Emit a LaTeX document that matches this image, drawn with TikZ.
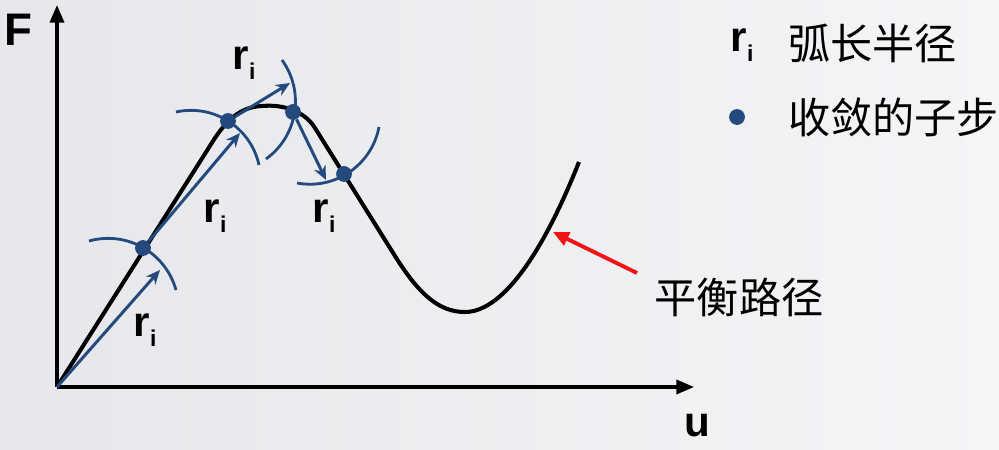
\documentclass[tikz,border=0pt]{standalone}
\usepackage{fontspec}
\setmainfont{Liberation Sans}
\newfontfamily\cjk{Noto Sans CJK SC}
\usetikzlibrary{arrows.meta, positioning}
\definecolor{stepblue}{RGB}{36,74,125}
\definecolor{bgleft}{RGB}{229,231,234}
\definecolor{bgright}{RGB}{244,245,247}
\definecolor{pathred}{RGB}{240,20,20}
\newcommand{\Ri}{\textbf{r}\raisebox{-5.5pt}{\fontsize{13}{13}\selectfont\bfseries i}}
\tikzset{
    axis/.style={line width=1.8pt, -{Triangle[length=10pt, width=8pt]}},
    curve/.style={line width=2.3pt, line join=round},
    vec/.style={stepblue, line width=1.7pt, -{Stealth[length=8pt, width=7pt]}},
    arcline/.style={stepblue, line width=1.6pt},
    dot/.style={circle, fill=stepblue, inner sep=0pt, minimum size=9pt},
    lab/.style={font=\fontsize{24}{24}\selectfont},
    zh/.style={font=\fontsize{24}{24}\selectfont\cjk},
}

\begin{document}
\begin{tikzpicture}[x=0.02cm, y=-0.02cm]
    \shade[left color=bgleft, right color=bgright] (0,0) rectangle (999,449);
    \useasboundingbox (0,0) rectangle (999,449);

    % axes
    \coordinate (o) at (57,387);
    \coordinate (ytop) at (57,5);
    \coordinate (xend) at (694,387);
    \draw[axis] (o) -- (ytop);
    \draw[axis] (o) -- (xend);
    \node[lab, font=\fontsize{26}{26}\selectfont\bfseries] (F) at (18,30) {F};
    \node[lab, font=\fontsize{24}{24}\selectfont\bfseries] (u) at (697,426) {u};

    % equilibrium path
    \draw[curve] (o) -- (208,149)
        .. controls (222,126) and (236,107) .. (262,106)
        .. controls (285,104) and (305,112) .. (315,128)
        -- (395,256)
        .. controls (420,296) and (440,312) .. (465,312)
        .. controls (500,312) and (540,260) .. (579,162);

    % converged sub-steps
    \node[dot] (p1) at (143,248) {};
    \node[dot] (p2) at (228,121) {};
    \node[dot] (p3) at (293,112) {};
    \node[dot] (p4) at (344,174) {};

    % arcs
    \draw[arcline] (89,241) to[bend left=45] (176,290);
    \draw[arcline] (176,112) to[bend left=45] (259,165);
    \draw[arcline] (282,60) to[bend left=45] (266,159);
    \draw[arcline] (297,183) to[bend right=45] (379,127);

    % predictor steps
    \coordinate (t1) at (160,270);
    \coordinate (t2) at (240,133);
    \coordinate (t3) at (290,83);
    \coordinate (t4) at (326,180);
    \draw[vec] (o) -- (t1);
    \draw[vec] (p1) -- (t2);
    \draw[vec] (p2) -- (t3);
    \draw[vec] (p3) -- (t4);

    \node[lab] (r1) at (145,330) {\Ri};
    \node[lab] (r2) at (215,216) {\Ri};
    \node[lab] (r3) at (244,63) {\Ri};
    \node[lab] (r4) at (324,216) {\Ri};

    % equilibrium path label
    \node[zh] (eq) at (739,297) {平衡路径};
    \coordinate (hit) at (553,232);
    \coordinate (tail) at (637,273);
    \draw[pathred, line width=2.2pt, -{Triangle[length=9pt, width=8pt]}] (tail) -- (hit);

    % legend
    \node[lab] (lr) at (742,45) {\Ri};
    \node[zh, anchor=west] (lrt) at (782,43) {弧长半径};
    \node[dot] (ld) at (737,117) {};
    \node[zh, anchor=west] (ldt) at (782,117) {收敛的子步};
\end{tikzpicture}
\end{document}
